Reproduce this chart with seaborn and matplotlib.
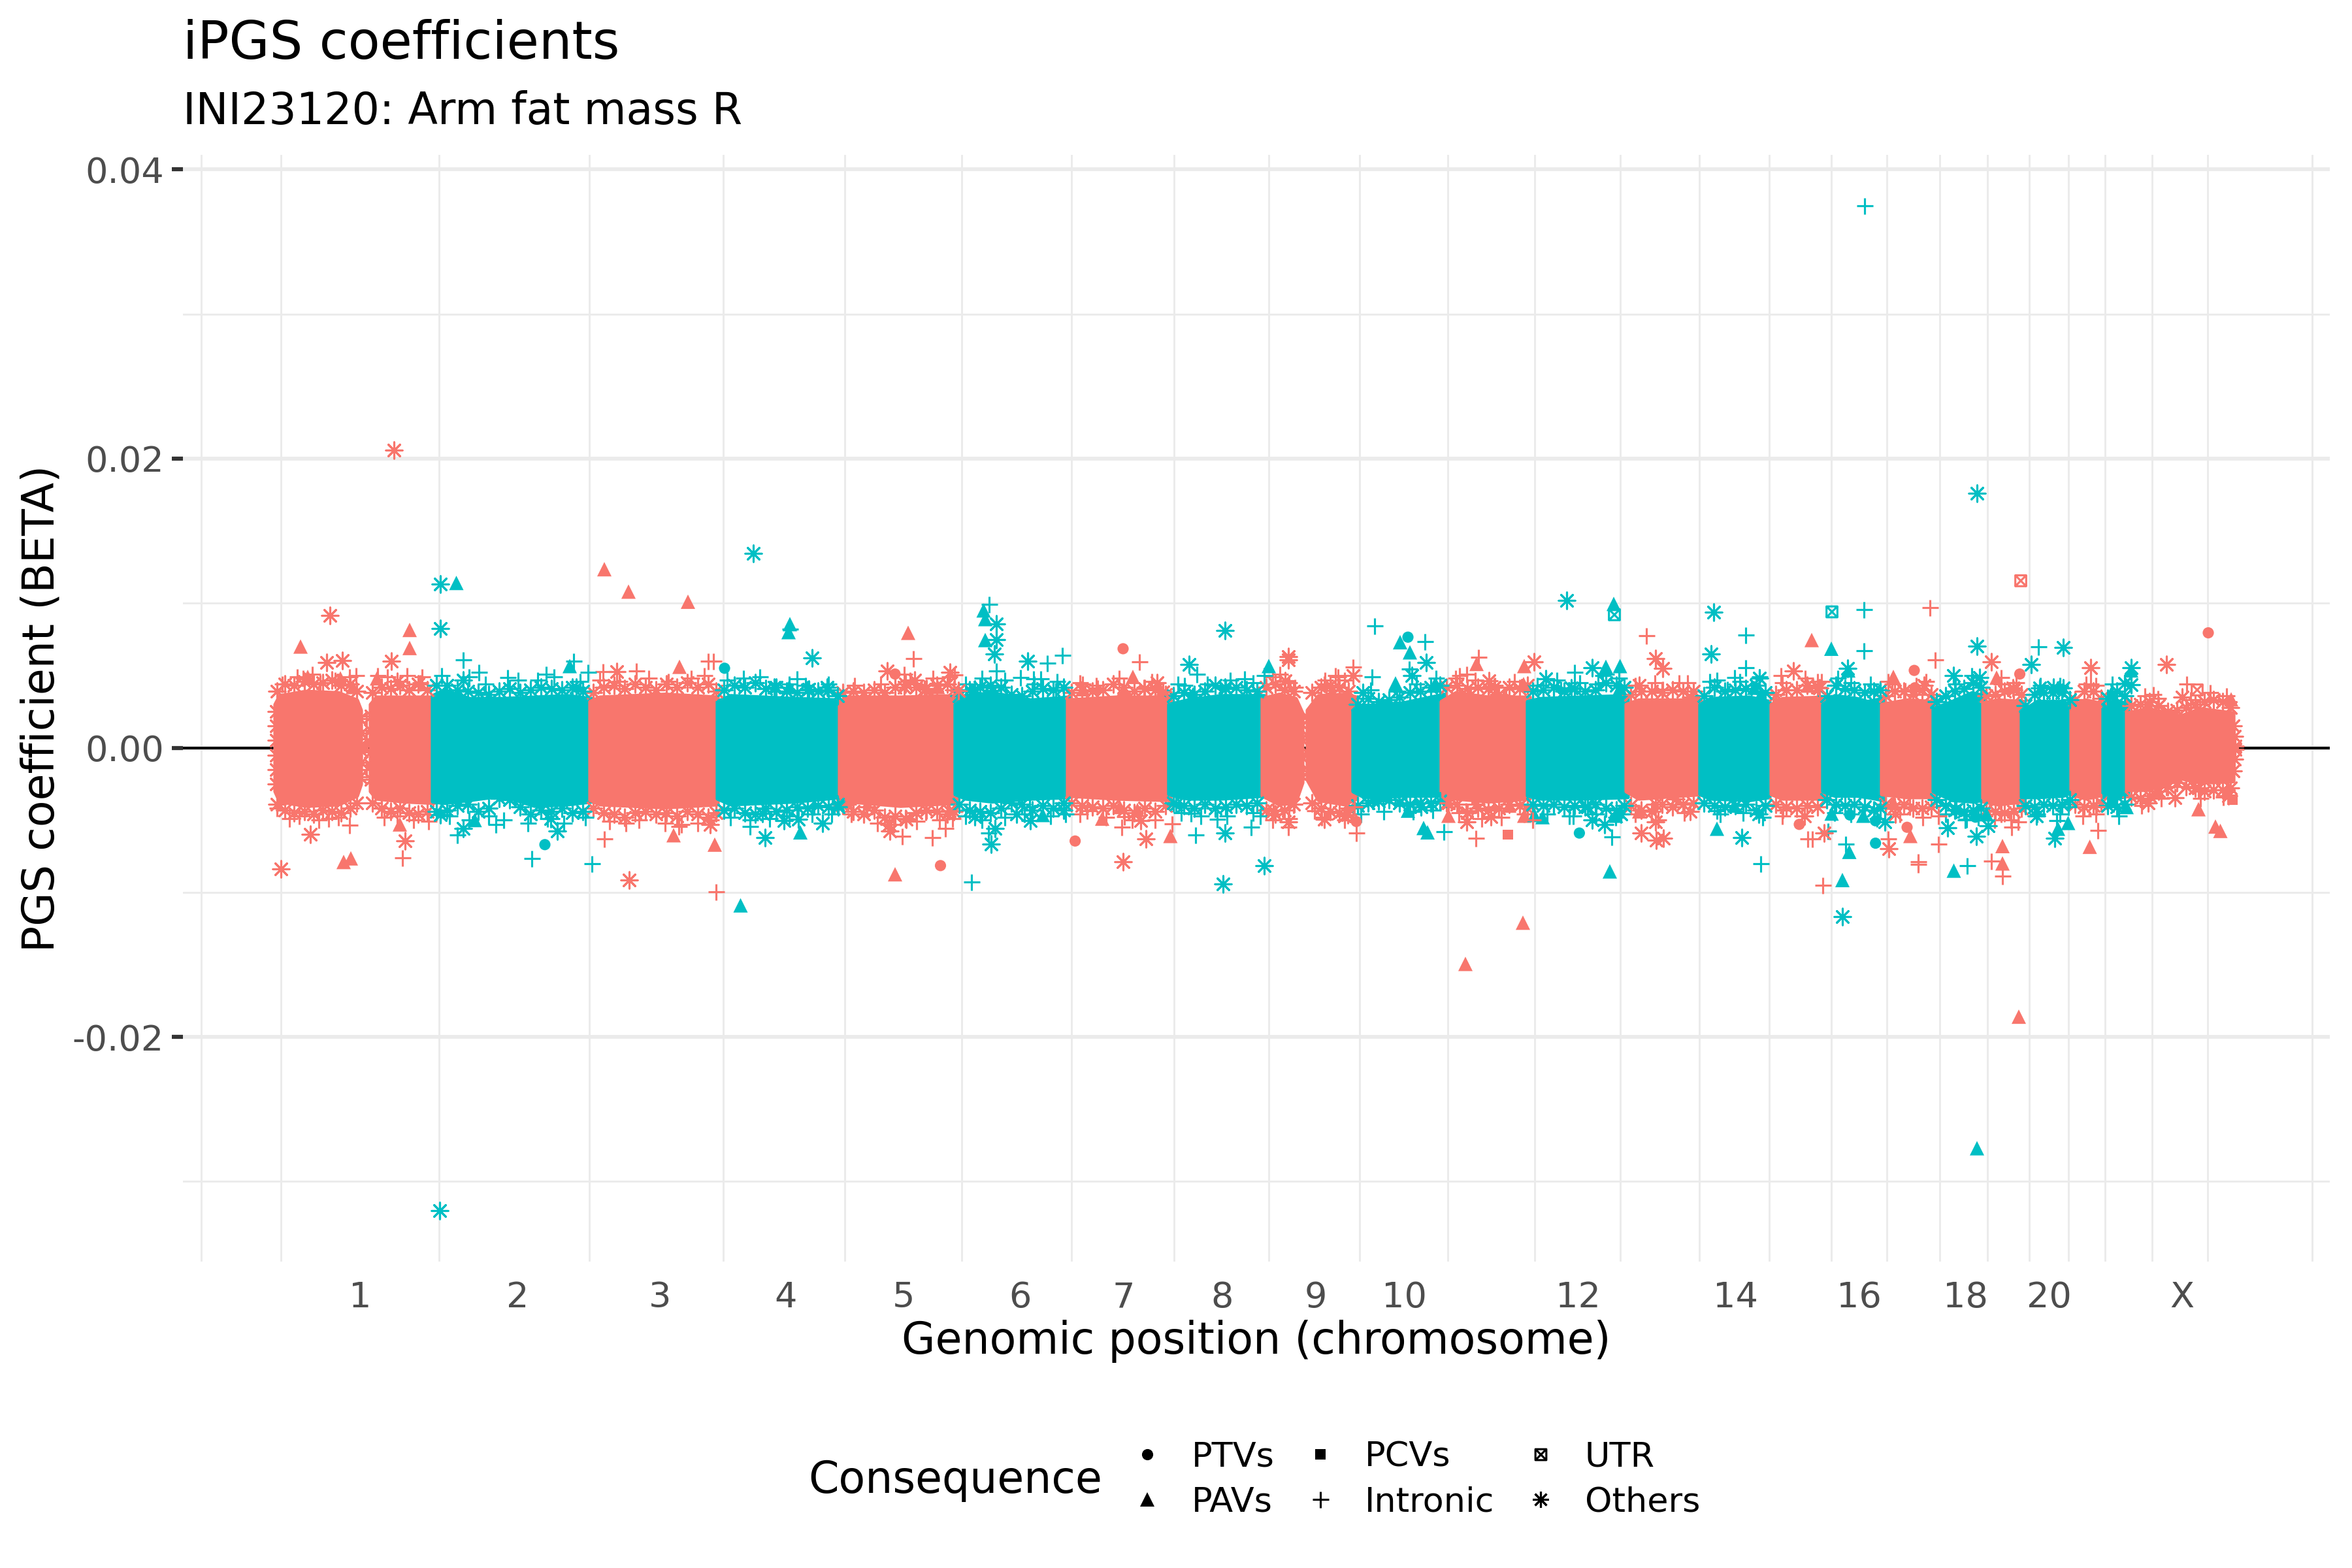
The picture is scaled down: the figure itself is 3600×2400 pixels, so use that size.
import matplotlib
matplotlib.use("Agg")
import matplotlib.pyplot as plt
from matplotlib.lines import Line2D
from matplotlib.markers import MarkerStyle
from matplotlib.path import Path
from matplotlib.transforms import Affine2D
import pandas as pd
import seaborn as sns

# all points: (genome position in Mb, beta x 1000)
salmon_ptv = [(952,5.1),(1301,6.85),(1227.6,-6.45),(1021.5,-8.15),(1658,-5.1),(2336,-5.3),(2512,5.35),(2513,4.15),(2673.5,5.1),(2962,7.95),(2501,-5.5)]
teal_ptv = [(691,5.5),(416,-6.7),(1737,7.65),(1930.5,-3.1),(1999.4,-5.9),(2413.5,-4.65),(2452.7,-5.05),(2452.7,-6.6),(2605.7,-4.8),(2816,-3.6)]
salmon_pav = [(42,7.0),(209,8.15),(209,6.9),(507,12.35),(544,10.8),(635,10.1),(622,5.6),(159,4.8),(103,4.8),(122,4.2),(53,4.9),(108,-7.9),(119,-7.65),(194,-5.3),(613,-6.05),(676,-6.7),(972,7.95),(1017.5,4.2),(1316,4.9),(1302,4.05),(1240,4.05),(952,-8.75),(1269,-4.9),(1296,-4.1),(1323,-4.3),(1373.4,-6.1),(1842,5.8),(1915,5.65),(1914,4.4),(1799,-4.7),(1915,-4.7),(1892,-4.0),(2091,-4.4),(2355,7.45),(2349,4.3),(1913,-12.1),(1825,-14.95),(2672,-18.6),(2480,4.9),(2480,-3.8),(2506,-6.1),(2638,4.85),(2647,-6.8),(2647,-8.0),(2780.6,-6.85),(2870,2.9),(2885,-3.0),(2947,-4.25),(2973,-5.45),(2980.5,-5.75),(2997,3.35)]
teal_pav = [(280.5,11.4),(454,5.65),(308.6,-5.0),(715.5,-10.9),(791,8.55),(789,8.0),(790,4.2),(807,-5.85),(1087.5,9.5),(1090,8.9),(1090,7.45),(1178,-4.65),(1408,3.7),(1524,5.65),(1725,7.3),(1740,6.6),(1718,4.45),(1777.5,4.3),(2052,9.95),(2040,5.6),(2061.6,5.65),(2061.6,4.15),(2267,4.15),(2277,3.65),(2385,6.85),(1737,-4.35),(1761,-5.55),(1767,-5.85),(1930.5,-4.65),(1943,-4.8),(2055.5,-4.7),(2046,-8.55),(2210,-5.6),(2236.5,-4.0),(2385.5,-4.55),(2412.5,-7.2),(2402,-9.15),(2608,-27.7),(2411,5.35),(2434,-4.7),(2572.5,-8.5),(2622.5,-4.6),(2732,-5.6),(2747.5,-5.2),(2844,5.35),(2814,3.8),(2837,-4.1)]
salmon_pcv = [(1890,-6.0),(2999,-3.6)]
salmon_utr = [(2675,11.55),(2945,4.0),(2305,3.0)]
teal_utr = [(2053,9.2),(2386,9.4),(1726.5,-3.65)]
salmon_intronic = [(666,6.0),(674,6.0),(505,5.25),(556,5.3),(225,4.5),(117,4.9),(46,4.8),(117,-5.35),(198,-7.6),(507,-6.3),(621,-5.45),(678,-9.95),(980,6.15),(966,5.1),(1043,5.05),(1326,5.95),(1238.5,4.4),(1261.5,4.15),(1333,4.2),(1541,5.1),(1564,4.2),(1626,5.0),(1609,4.4),(880,-3.9),(963,-6.1),(1009,-6.2),(1029,-5.6),(999,-4.45),(1299,-5.5),(1303,-4.75),(1246,-4.35),(1376,-5.25),(1554,-5.5),(1563,-3.9),(1594,-4.35),(1653,5.6),(1630,4.9),(1845,6.25),(1816,5.0),(1827,5.1),(1887,3.6),(2102.4,7.75),(2152,4.5),(2127,4.05),(2308,5.0),(2364,4.6),(1658,-5.9),(1655,-4.1),(1841,-6.25),(1869,-4.1),(1826,-4.35),(1928,-5.0),(2310.5,-4.3),(2349,-6.3),(2356,-6.3),(2372,-9.5),(2536,9.7),(2472,4.6),(2544,6.1),(2497.5,3.95),(2645,4.85),(2781.6,4.4),(2877.5,3.7),(2928.5,4.4),(2472,-6.3),(2505,-4.1),(2548.5,-6.65),(2518,-7.9),(2518,-8.05),(2548.5,-4.7),(2630,-7.85),(2647,-8.9),(2661,-5.5),(2645,-4.6),(2671,-5.15),(2793,-5.7),(2791,-4.1),(2898,-2.75),(143,2.0),(143,-1.5),(143,0.6)]
teal_intronic = [(291,6.1),(460,6.0),(482,5.2),(418,5.1),(359,4.85),(315,5.2),(281.6,-6.05),(341,-5.3),(353,-5.0),(396,-7.65),(488,-8.0),(730,-5.45),(790.5,8.2),(802,4.75),(828,-4.1),(1096,9.9),(1106.5,5.3),(1144,4.85),(1164,4.75),(1175,4.75),(1185,5.85),(1208,6.4),(1198,3.95),(1095,-5.9),(1158,-4.1),(1385,4.4),(1413.6,5.1),(1486.5,4.75),(1517,5.0),(1069,-9.3),(1405,-4.55),(1412,-6.05),(1445,-4.95),(1497,-5.5),(1511,-4.7),(1686,8.45),(1763,7.35),(1739,5.45),(1682,4.9),(1792,-5.8),(1992,5.2),(1971,4.05),(2040,5.1),(2027.5,4.4),(1984,-4.7),(2049,-6.15),(2254.4,7.8),(2254.4,5.55),(2237,4.85),(2199,4.6),(2226,4.05),(2210,-4.35),(2277,-8.0),(2380,-5.75),(2407.4,-6.65),(2435,9.55),(2435,6.7),(2436,37.5),(2592,-4.95),(2593,-8.15),(2701.5,7.0),(2730,-5.05),(2747.5,-4.1)]
salmon_others = [(185,20.6),(87,9.15),(181,6.0),(82,5.9),(106,6.05),(526,5.25),(190,4.6),(12,-8.4),(57,-6.0),(202,-6.45),(545,-9.15),(668.5,-5.3),(940,5.3),(982,4.7),(997.4,4.05),(1036,5.2),(966,4.2),(1049,3.95),(1353,4.5),(1362,3.85),(1553.6,6.1),(1553.6,6.3),(1548.5,4.65),(1620,3.95),(908.5,-4.1),(943,-5.3),(944,-5.75),(969,-4.95),(1035,-4.35),(1300.5,-7.9),(1336,-6.3),(1327.5,-5.05),(1554,-5.15),(1531,-4.35),(1609,-4.95),(1640,-4.7),(1653,5.0),(1861,4.65),(1930,5.95),(1823.5,3.6),(1869,4.2),(2116,6.15),(2127,5.5),(2091,4.3),(2170,3.5),(2327,5.3),(2366.6,4.15),(1645,-4.65),(1799,-3.8),(1827,-5.15),(1864,-4.75),(1841,-3.9),(2116,-5.15),(2094,-5.9),(2117,-6.4),(2128,-6.25),(2116,-3.9),(2169,-4.4),(2147,-3.55),(2344,-4.7),(2374,-5.9),(2527,4.3),(2630,5.95),(2663,4.15),(2781.6,5.55),(2898,5.75),(2922,3.5),(2949,2.55),(2473,-7.0),(2483,-4.6),(2870,-3.8),(2911,-3.45),(2947,-2.8),(2993,-3.3)]
teal_others = [(256,11.3),(256,8.25),(734.5,13.45),(464,4.2),(291,4.7),(255,-32.0),(256,-4.65),(291,-5.6),(435,-5.75),(425,-4.9),(753,-6.2),(749,-4.55),(825,6.2),(767,4.2),(819.5,4.05),(848,4.2),(782,-5.05),(804,-4.95),(841,-5.2),(865,-4.1),(1106.5,8.55),(1106.5,7.5),(1104,6.5),(1074,4.05),(1101,3.95),(1155,6.0),(1457,8.1),(1402,5.75),(1457,4.2),(1099,-6.65),(1105,-5.6),(1074,-4.75),(1138,-4.6),(1159,-5.05),(1210,-4.3),(1457,-5.9),(1517,-8.15),(1454,-9.4),(1382,-3.9),(1765,5.9),(1743,5.0),(1668,3.8),(1980,10.2),(1948,4.75),(2019,5.55),(1987,4.15),(2205,9.4),(2201,6.5),(2275,4.8),(2410,5.5),(1683,-3.65),(1698.5,-3.4),(1757,-4.1),(2019,-5.0),(2038,-5.3),(2063,-4.6),(2012,-4.1),(2248,-6.2),(2274,-4.6),(2402,-11.7),(2608,17.6),(2467,-5.15),(2608,7.05),(2571.5,5.0),(2612,4.85),(2691,5.75),(2740,6.95),(2704,4.15),(2724.5,4.2),(2740,4.15),(2844,5.55),(2834,4.45),(2844,4.35),(2563,-5.55),(2575.6,-4.25),(2607,-6.1),(2625,-5.4),(2699,-4.7),(2727,-6.25)]

# the middle of each chromosome is solid colour in the picture, single SNPs
# cannot be told apart there, so only its outline is kept: (pos, low, high)
chr1a = [(3,-3.0,3.0),(10,-3.7,3.6),(50,-4.0,3.9),(100,-3.9,3.8),(128,-3.3,3.3),(134,-2.5,2.6)]
chr1b = [(149,-3.0,3.0),(158,-3.5,3.5),(200,-3.7,3.5),(246,-3.8,3.5)]
chr2 = [(244,-3.7,3.6),(262,-3.8,4.0),(300,-3.6,3.4),(350,-3.3,3.4),(400,-4.0,3.5),(450,-3.9,3.6),(488,-3.7,3.4)]
chr3 = [(485,-3.6,3.2),(500,-3.9,3.5),(600,-4.1,3.7),(680,-3.9,3.5)]
chr4 = [(680,-3.5,3.2),(700,-3.9,3.6),(800,-3.7,3.4),(869,-3.4,3.3)]
chr5 = [(867,-3.5,3.2),(880,-3.7,3.5),(960,-4.0,3.5),(1046,-3.8,3.6)]
chr6 = [(1044,-3.2,3.0),(1060,-3.5,3.6),(1100,-3.7,3.8),(1160,-3.5,3.3),(1218,-3.4,3.5)]
chr7 = [(1216,-3.3,3.3),(1290,-3.5,3.5),(1373,-3.6,3.5)]
chr8 = [(1371,-3.2,3.0),(1400,-3.5,3.3),(1450,-3.5,3.6),(1517,-3.3,3.6)]
chr9a = [(1514,-3.3,3.4),(1540,-3.9,3.7),(1565,-3.7,3.4),(1575,-2.4,2.4)]
chr9b = [(1583,-2.2,2.6),(1600,-3.6,3.6),(1640,-3.9,3.7),(1658,-3.5,3.5)]
chr10 = [(1653,-3.0,2.6),(1670,-3.4,2.9),(1730,-3.3,3.1),(1793,-3.3,3.7)]
chr11 = [(1788,-3.3,3.2),(1810,-3.5,3.8),(1860,-3.7,3.5),(1923,-3.5,3.5)]
chr12 = [(1920,-3.3,3.2),(1940,-3.5,3.4),(2000,-3.5,3.5),(2073,-3.4,3.6)]
chr13 = [(2071,-3.0,3.0),(2090,-3.5,3.3),(2185,-3.2,3.3)]
chr14 = [(2184,-3.2,3.0),(2200,-3.5,3.4),(2260,-3.6,3.5),(2290,-3.4,3.2)]
chr15 = [(2293,-3.2,3.0),(2310,-3.5,3.4),(2377,-3.5,3.5)]
chr16 = [(2372,-3.0,3.0),(2390,-3.3,3.6),(2424,-3.3,3.4),(2440,-3.4,3.2),(2464,-3.6,3.4)]
chr17 = [(2462,-3.2,3.0),(2500,-3.4,3.3),(2543,-3.4,3.2)]
chr18 = [(2541,-3.0,2.7),(2570,-3.6,3.2),(2600,-3.7,3.8),(2620,-3.6,3.6)]
chr19 = [(2617,-3.7,3.1),(2640,-3.9,3.3),(2679,-3.7,3.2)]
chr20 = [(2676,-3.4,2.5),(2700,-3.4,3.2),(2740,-3.3,3.2),(2755,-3.0,2.8)]
chr21 = [(2752,-3.2,2.9),(2775,-3.5,3.3),(2804,-3.2,3.0)]
chr22 = [(2801,-3.4,3.0),(2820,-3.5,3.3),(2839,-3.3,3.0)]
chrX = [(2837,-2.9,2.4),(2870,-2.9,2.7),(2920,-2.1,2.2),(2950,-2.4,2.7),(3000,-2.3,2.4)]

salmon_bands = [chr1a, chr1b, chr3, chr5, chr7, chr9a, chr9b, chr11, chr13, chr15, chr17, chr19, chr21, chrX]
teal_bands = [chr2, chr4, chr6, chr8, chr10, chr12, chr14, chr16, chr18, chr20, chr22]

# rough fringe of marks on the rim of each cloud: (pos, lower mark, upper mark)
salmon_rim = [
    (6,-3.9,3.9),(18,-4.3,4.4),(32,-4.5,4.3),(48,-4.4,4.6),(62,-4.6,4.4),(76,-4.3,4.5),(90,-4.4,4.7),(104,-4.5,4.3),(118,-4.2,4.4),(128,-3.8,3.9),
    (152,-3.8,3.8),(166,-4.2,4.2),(180,-4.4,4.1),(194,-4.2,4.3),(208,-4.5,4.0),(222,-4.6,4.4),(236,-4.4,4.0),
    (490,-4.2,3.8),(506,-4.5,4.2),(522,-4.6,4.3),(538,-4.8,4.1),(554,-4.5,4.4),(570,-4.4,4.2),(586,-4.6,4.0),(602,-4.5,4.4),(618,-4.7,4.2),(634,-4.4,4.5),(650,-4.6,4.2),(666,-4.8,4.4),(678,-4.5,3.9),
    (872,-4.0,3.8),(888,-4.4,3.9),(904,-4.6,3.8),(920,-4.3,4.0),(936,-4.8,3.8),(952,-4.7,4.2),(968,-4.9,4.4),(984,-4.5,4.2),(1000,-4.3,4.1),(1016,-4.4,4.3),(1032,-4.6,4.4),(1042,-4.4,4.0),
    (1222,-3.8,3.8),(1238,-4.0,4.0),(1254,-4.1,3.9),(1270,-4.2,4.0),(1286,-4.0,4.4),(1302,-4.3,4.2),(1318,-4.5,3.9),(1334,-4.2,4.1),(1350,-4.4,4.0),(1366,-4.0,3.7),
    (1520,-4.3,4.2),(1534,-4.6,4.4),(1548,-4.3,4.0),(1562,-3.9,3.9),
    (1590,-3.8,3.8),(1604,-4.2,4.2),(1618,-4.4,4.3),(1632,-4.5,4.2),(1646,-4.2,3.9),
    (1796,-3.8,4.2),(1812,-3.9,4.3),(1828,-4.5,4.1),(1844,-4.2,4.2),(1860,-4.3,4.1),(1876,-4.2,3.7),(1892,-3.9,4.2),(1908,-4.0,4.1),(1920,-4.2,4.3),
    (2078,-4.0,3.7),(2094,-4.3,3.9),(2110,-4.4,3.9),(2126,-3.9,3.8),(2142,-4.1,4.0),(2158,-3.9,3.9),(2174,-3.8,3.9),
    (2300,-3.9,3.7),(2316,-4.1,4.0),(2332,-4.2,4.0),(2348,-4.0,4.3),(2364,-4.1,4.2),
    (2468,-3.9,3.6),(2482,-4.1,3.9),(2496,-3.9,3.9),(2510,-4.2,3.7),(2524,-4.2,4.0),(2538,-4.1,3.7),
    (2622,-4.3,3.6),(2636,-4.4,3.7),(2650,-4.5,3.9),(2664,-4.4,4.0),(2676,-4.2,3.7),
    (2758,-3.9,3.3),(2772,-4.1,3.9),(2786,-4.0,3.9),(2798,-3.8,3.4),
    (2844,-3.4,2.9),(2858,-3.5,3.0),(2872,-3.3,3.2),(2886,-3.0,2.9),(2900,-2.7,2.5),(2914,-2.4,2.6),(2928,-2.7,2.8),(2942,-2.8,3.0),(2956,-3.0,3.2),(2970,-2.9,3.3),(2984,-2.9,3.2),(2996,-2.8,2.8),
    # flat ends next to the gaps
    (5,-2.5,2.5),(5,-1.5,1.5),(5,-0.5,0.5),(133,-2.0,2.0),(135,-1.0,1.0),(135,-0.2,0.2),
    (150,-2.2,2.2),(149,-1.2,1.2),(149,-0.3,0.3),(1571,-1.8,1.8),(1574,-0.6,0.6),
    (1585,-1.6,2.0),(1584,-0.4,0.8),(3000,-1.6,1.5),(3002,-0.8,0.8),(3003,-0.1,0.1),
]
teal_rim = [
    (250,-4.4,4.3),(266,-4.3,4.3),(282,-4.0,4.0),(298,-3.9,3.9),(314,-4.4,3.8),(330,-4.2,3.7),(346,-3.5,3.9),(362,-3.6,4.1),(378,-4.1,3.8),(394,-4.6,4.0),(410,-4.3,4.2),(426,-4.4,4.1),(442,-4.2,4.0),(458,-4.5,4.2),(474,-4.4,3.9),
    (690,-4.3,4.0),(706,-4.2,4.3),(722,-4.5,4.2),(738,-4.6,4.5),(754,-4.2,4.1),(770,-4.4,4.2),(786,-4.3,3.9),(802,-4.1,3.8),(818,-4.2,4.0),(834,-4.0,3.9),(850,-4.1,4.0),(864,-3.9,3.6),
    (1050,-3.9,3.6),(1066,-4.3,4.0),(1082,-4.4,4.2),(1098,-4.5,4.3),(1114,-4.2,4.2),(1130,-3.8,3.7),(1146,-3.9,3.6),(1162,-4.3,3.9),(1178,-4.0,4.1),(1194,-4.2,4.0),(1210,-3.8,4.2),
    (1378,-3.8,3.6),(1394,-4.0,3.8),(1410,-4.2,3.7),(1426,-3.9,3.9),(1442,-4.2,4.3),(1458,-4.1,4.1),(1474,-3.9,4.2),(1490,-4.0,4.0),(1506,-3.8,3.9),
    (1660,-4.0,3.0),(1676,-3.8,3.4),(1692,-3.7,3.2),(1708,-3.6,3.3),(1724,-3.8,3.5),(1740,-3.9,3.8),(1756,-3.8,3.9),(1772,-3.8,4.2),(1786,-3.7,4.3),
    (1928,-3.9,3.9),(1944,-4.0,4.0),(1960,-3.9,4.2),(1976,-4.1,3.9),(1992,-4.0,4.1),(2008,-4.1,3.9),(2024,-3.9,4.0),(2040,-4.2,4.5),(2056,-4.3,4.3),(2068,-4.0,4.2),
    (2190,-3.8,3.6),(2206,-4.0,4.2),(2222,-4.1,3.9),(2238,-4.0,4.0),(2254,-3.9,4.1),(2270,-4.3,4.3),(2284,-4.0,3.8),
    (2378,-3.6,3.6),(2392,-3.9,4.3),(2406,-4.0,4.1),(2420,-3.9,4.0),(2436,-4.1,3.8),(2450,-4.3,3.9),(2460,-4.2,4.0),
    (2546,-3.6,3.2),(2560,-4.0,3.6),(2574,-4.3,3.9),(2588,-4.4,4.1),(2602,-4.3,4.5),(2614,-4.2,4.2),
    (2682,-4.0,2.9),(2696,-4.1,3.7),(2710,-3.9,3.8),(2724,-4.0,3.8),(2738,-3.9,3.8),(2750,-3.6,3.3),
    (2808,-4.0,3.4),(2822,-4.1,3.9),(2834,-3.9,3.6),
]
# taller marks sticking out of the rim
salmon_spikes = [
    (14,4.4),(37,4.9),(60,5.1),(72,4.5),(95,4.7),(127,5.0),(6,-4.2),(25,-4.9),(40,-4.7),(70,-5.0),(85,-4.9),(100,-4.8),
    (160,5.0),(175,4.9),(205,5.0),(228,4.9),(170,-4.8),(190,-4.7),(215,-5.0),(238,-5.1),
    (500,4.7),(530,4.6),(575,4.8),(605,4.6),(640,4.8),(660,5.0),(515,-5.1),(540,-5.2),(560,-5.0),(600,-5.2),(625,-5.3),(650,-5.2),(670,-5.0),
    (890,4.3),(930,4.4),(975,4.7),(1010,4.8),(1035,4.9),(885,-4.6),(925,-5.2),(950,-5.3),(985,-5.1),(1020,-5.0),(1040,-4.9),
    (1235,4.5),(1260,4.3),(1295,4.8),(1345,4.6),(1235,-4.6),(1275,-4.8),(1315,-5.0),(1350,-5.0),
    (1530,4.9),(1555,4.5),(1610,4.7),(1640,4.7),(1530,-5.0),(1555,-4.9),(1605,-4.8),(1640,-5.0),
    (1810,4.8),(1840,4.7),(1870,4.3),(1900,4.6),(1815,-4.5),(1850,-4.9),(1880,-4.8),(1915,-4.6),
    (2085,4.3),(2115,4.5),(2165,4.5),(2085,-4.6),(2120,-5.0),(2160,-4.5),
    (2310,4.5),(2345,4.8),(2370,4.6),(2310,-4.7),(2340,-4.7),
    (2478,4.4),(2515,4.3),(2530,4.6),(2490,-4.6),(2525,-4.8),
    (2645,4.4),(2668,4.5),(2635,-5.0),(2660,-5.0),
    (2775,4.4),(2790,4.3),(2770,-4.7),(2790,-4.6),
    (2865,3.6),(2885,3.4),(2935,3.3),(2965,3.8),(2990,3.6),(2860,-4.0),(2890,-3.5),(2950,-3.5),(2985,-3.4),
]
teal_spikes = [
    (258,5.0),(300,4.9),(325,4.4),(375,4.7),(405,4.7),(430,4.9),(470,4.6),(270,-4.7),(300,-5.0),(330,-4.7),(390,-5.2),(420,-4.9),(445,-5.2),(478,-4.8),
    (695,4.7),(720,4.8),(745,4.9),(790,4.4),(815,4.3),(850,4.4),(700,-4.8),(730,-5.0),(760,-4.9),(790,-4.7),(825,-4.6),(855,-4.6),
    (1060,4.4),(1085,4.8),(1120,4.7),(1165,4.4),(1200,4.6),(1060,-4.7),(1085,-5.0),(1120,-4.8),(1150,-4.6),(1190,-4.7),(1213,-4.6),
    (1395,4.3),(1430,4.4),(1465,4.7),(1500,4.5),(1390,-4.5),(1420,-4.7),(1460,-4.7),(1500,-4.5),
    (1680,4.0),(1720,3.9),(1750,4.4),(1780,4.8),(1665,-4.6),(1700,-4.4),(1745,-4.4),(1775,-4.3),
    (1935,4.3),(1965,4.7),(2000,4.5),(2035,5.0),(2060,4.8),(1950,-4.6),(1990,-4.7),(2025,-4.6),(2055,-4.8),
    (2210,4.7),(2245,4.6),(2275,4.9),(2215,-4.6),(2250,-4.5),(2280,-4.8),
    (2395,4.8),(2415,4.5),(2445,4.4),(2390,-4.5),(2415,-4.6),(2455,-4.9),
    (2575,4.4),(2600,5.0),(2560,-4.6),(2590,-5.0),(2610,-4.8),
    (2705,4.3),(2735,4.3),(2700,-4.6),(2735,-4.6),
    (2815,4.4),(2825,-4.7),
]

chrom_centres = [133,374,592,785,965,1143,1302,1453,1596,1731,1997,2238,2427,2590,2718,2922]
chrom_labels = ['1','2','3','4','5','6','7','8','9','10','12','14','16','18','20','X']
x_lines = [-110.4,11.8,254,484,688.6,875,1054,1222,1379,1524,1663,1798,1931,2062,2183,2290,2385,2469.5,2551,2624,2688,2748,2804,2876,2961,3120.6]
y_major = [-0.02,0.0,0.02,0.04]
y_labels = ['-0.02','0.00','0.02','0.04']
y_minor = [-0.03,-0.01,0.01,0.03]

salmon = '#F8766D'
teal = '#00BFC4'

utr_path = Path.make_compound_path(
    Path.unit_rectangle().transformed(Affine2D().translate(-0.5, -0.5)),
    Path([(-0.5,-0.5),(0.5,0.5),(-0.5,0.5),(0.5,-0.5)], [1,2,1,2]))
asterisk = (8, 2, 0)
shapes = {
    'PTVs': ('o', 17, 0),
    'PAVs': ('^', 28, 0),
    'PCVs': ('s', 14, 0),
    'Intronic': ('+', 36, 0.75),
    'UTR': (MarkerStyle(utr_path, fillstyle='none'), 16, 0.75),
    'Others': (asterisk, 36, 0.75),
}


def rim_points(rows):
    return [(p, lo) for p, lo, hi in rows] + [(p, hi) for p, lo, hi in rows]


series = [
    (salmon, 'Others', rim_points(salmon_rim)), (teal, 'Others', rim_points(teal_rim)),
    (salmon, 'Intronic', salmon_spikes), (teal, 'Intronic', teal_spikes),
    (salmon, 'PTVs', salmon_ptv), (teal, 'PTVs', teal_ptv),
    (salmon, 'PAVs', salmon_pav), (teal, 'PAVs', teal_pav),
    (salmon, 'PCVs', salmon_pcv),
    (salmon, 'UTR', salmon_utr), (teal, 'UTR', teal_utr),
    (salmon, 'Intronic', salmon_intronic), (teal, 'Intronic', teal_intronic),
    (salmon, 'Others', salmon_others), (teal, 'Others', teal_others),
]

sns.set_theme(style='white', font='DejaVu Sans')
fig = plt.figure(figsize=(12, 8), dpi=300)
W, H = 3600, 2400
ax = fig.add_axes([280/W, 1-1931/H, (3566-280)/W, (1931-237)/H])
sns.despine(ax=ax, left=True, bottom=True)

ax.axhline(0, color='black', lw=1.0, zorder=1.5)

# core of the clouds, later chromosomes on top like the points
bands = [(b, salmon) for b in salmon_bands] + [(b, teal) for b in teal_bands]
bands.sort(key=lambda item: item[0][0][0])
for band, colour in bands:
    d = pd.DataFrame(band, columns=['pos', 'lo', 'hi'])
    ax.fill_between(d['pos'], d['lo']/1000, d['hi']/1000, color=colour, lw=1.5, zorder=2)

for colour, name, points in series:
    d = pd.DataFrame(points, columns=['pos', 'beta'])
    d['beta'] = d['beta']/1000
    marker, size, width = shapes[name]
    extra = {'edgecolor': 'none'} if width == 0 else {}
    sns.scatterplot(data=d, x='pos', y='beta', color=colour, marker=marker, s=size,
                    linewidth=width, legend=False, ax=ax, zorder=3, **extra)

ax.set_xlim(-138, 3148)
ax.set_ylim(-0.03554, 0.04101)
ax.set_xticks(chrom_centres, chrom_labels)
ax.set_xticks(x_lines, minor=True)
ax.set_yticks(y_major, y_labels)
ax.set_yticks(y_minor, minor=True)
ax.set_axisbelow(True)
ax.grid(False)
ax.grid(True, which='minor', color='#EBEBEB', lw=0.7)
ax.yaxis.grid(True, which='major', color='#EBEBEB', lw=1.4)
ax.tick_params(axis='x', which='both', length=0, labelsize=13, labelcolor='#4D4D4D', pad=7)
ax.tick_params(axis='y', which='major', length=4, width=1.5, color='#333333',
               labelsize=13, labelcolor='#4D4D4D', pad=3, left=True)
ax.tick_params(axis='y', which='minor', length=0)
ax.set_xlabel('Genomic position (chromosome)', fontsize=16, color='black')
ax.set_ylabel('PGS coefficient (BETA)', fontsize=16, color='black')
ax.xaxis.set_label_coords(0.5, -0.0528)
ax.yaxis.set_label_coords(-0.0557, 0.5)

fig.text(280/W, 1-68/H, 'iPGS coefficients', fontsize=19.2, color='black', va='center')
fig.text(280/W, 1-171/H, 'INI23120: Arm fat mass R', fontsize=16, color='black', va='center')

handles = []
for name in ['PTVs', 'PAVs', 'PCVs', 'Intronic', 'UTR', 'Others']:
    marker, size, width = shapes[name]
    handles.append(Line2D([], [], ls='none', marker=marker, markersize=size**0.5, color='black',
                          markeredgewidth=width if width else 0, label=name))
fig.legend(handles=handles, ncol=3, frameon=False, fontsize=12.6, loc='center left',
           bbox_to_anchor=(1714/W, 1-2265/H), labelcolor='black', handletextpad=0.5,
           columnspacing=0.53, labelspacing=0.35, borderpad=0, borderaxespad=0, handlelength=1.6)
fig.text(1237/W, 1-2266/H, 'Consequence', fontsize=16, color='black', va='center')

fig.savefig('out.png', dpi=300, facecolor='white')
